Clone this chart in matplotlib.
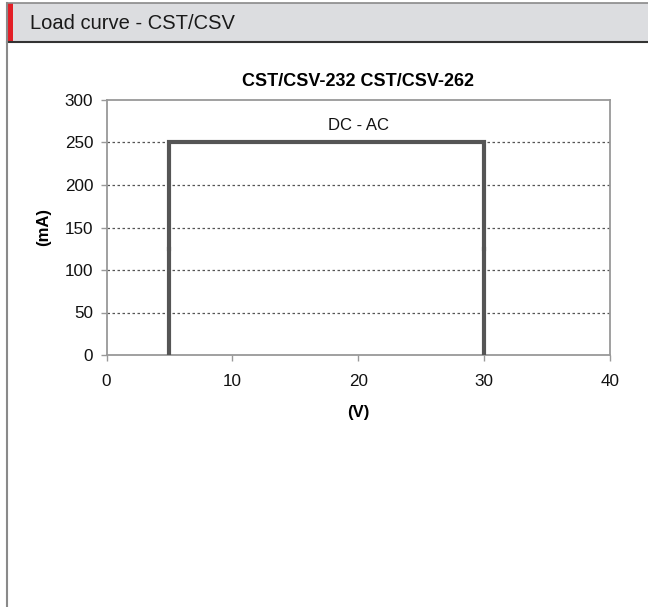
import matplotlib
matplotlib.use("Agg")
import matplotlib.pyplot as plt
from matplotlib.patches import Rectangle
from matplotlib.lines import Line2D

plt.rcParams['font.family'] = ['Liberation Sans', 'DejaVu Sans']

# data
upper_x = [5, 5, 30, 30]
upper_y = [125, 250, 250, 125]
left_x = [5, 5]
left_y = [0, 125]
right_x = [30, 30]
right_y = [0, 125]
x_ticks = [0, 10, 20, 30, 40]
y_ticks = [0, 50, 100, 150, 200, 250, 300]
title = "CST/CSV-232 CST/CSV-262"
header = "Load curve - CST/CSV"
annotation = "DC - AC"

W, H = 648, 607
fig = plt.figure(figsize=(W / 100, H / 100), dpi=100)

def fx(px):
    return px / W

def fy(py):
    return 1 - py / H

# header
fig.patches.append(Rectangle((fx(7), fy(42)), 1 - fx(7), fy(3) - fy(42),
                             transform=fig.transFigure, facecolor='#dcdde0',
                             edgecolor='none', zorder=0))
fig.patches.append(Rectangle((fx(7), fy(42)), fx(13) - fx(7), fy(3) - fy(42),
                             transform=fig.transFigure, facecolor='#e31e26',
                             edgecolor='none', zorder=1))
fig.lines.append(Line2D([fx(7), 1], [fy(3), fy(3)], transform=fig.transFigure,
                        color='#8a8a8a', lw=1.2))
fig.lines.append(Line2D([fx(7), 1], [fy(42), fy(42)], transform=fig.transFigure,
                        color='#333333', lw=1.5))
fig.lines.append(Line2D([fx(7), fx(7)], [fy(3), 0], transform=fig.transFigure,
                        color='#8a8a8a', lw=1.5))
fig.text(fx(30), fy(23.5), header, fontsize=14.5, color='#1a1a1a',
         va='center', ha='left')

ax = fig.add_axes([fx(106.5), fy(355), fx(610) - fx(106.5), fy(100) - fy(355)])
ax.plot(upper_x, upper_y, color='#555555', lw=3, solid_joinstyle='miter', zorder=3)
ax.plot(left_x, left_y, color='#555555', lw=3, zorder=3)
ax.plot(right_x, right_y, color='#555555', lw=3, zorder=3)

ax.set_xlim(0, 40)
ax.set_ylim(0, 300)
ax.set_xticks(x_ticks)
ax.set_yticks(y_ticks)
for v in y_ticks[1:-1]:
    ax.axhline(v, color='#555555', lw=0.9, ls=(0, (2, 2)), zorder=1)
for s in ax.spines.values():
    s.set_color('#999999')
    s.set_linewidth(1.3)
ax.tick_params(direction='out', length=4.5, width=1, color='#999999',
               labelsize=12.3, labelcolor='#111111')
ax.tick_params(axis='x', pad=9)
ax.tick_params(axis='y', pad=5)
ax.set_title(title, fontsize=13, fontweight='bold', pad=10)
ax.set_xlabel("(V)", fontsize=12, fontweight='bold', labelpad=12)
ax.set_ylabel("(mA)", fontsize=12, fontweight='bold', labelpad=10)
ax.text(20, 270, annotation, ha='center', va='center', fontsize=12, color='#111111')

fig.savefig("out.png", dpi=100)
